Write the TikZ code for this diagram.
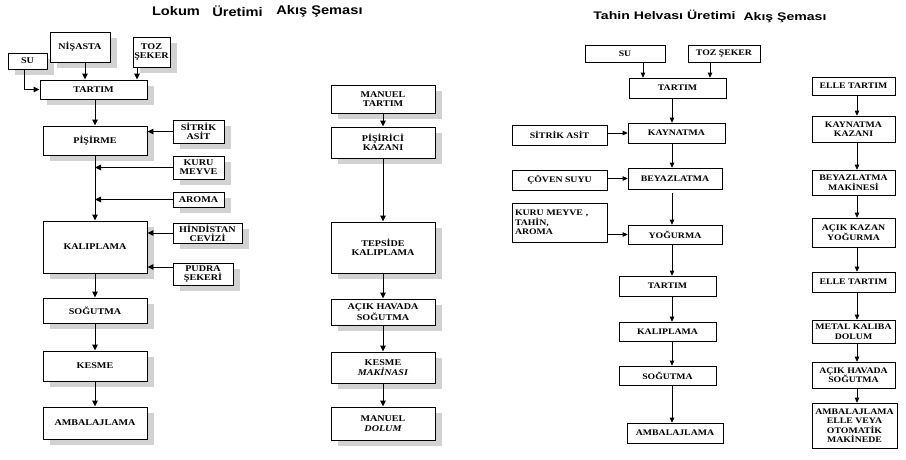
\documentclass[tikz,border=0pt]{standalone}
\usepackage{fontspec}
\newfontfamily\bxf[FakeStretch=1.15]{Liberation Serif}
\newfontfamily\ttlL[FakeStretch=1.17]{Liberation Sans}
\newfontfamily\ttlR[FakeStretch=1.28]{Liberation Sans}
\usetikzlibrary{arrows.meta,shadows}
\begin{document}
\begin{tikzpicture}[x=1pt,y=-1pt,
  lbox/.style={draw, line width=0.95pt, fill=white, inner sep=1pt, align=center,
    font=\bxf\bfseries\fontsize{8.8}{9.3}\selectfont,
    drop shadow={shadow xshift=7pt, shadow yshift=-6pt, fill=gray!35, opacity=1}},
  rbox/.style={draw, line width=0.6pt, fill=white, inner sep=1pt, align=center,
    font=\bxf\bfseries\fontsize{8.5}{9.5}\selectfont},
  larr/.style={line width=1pt, -{Triangle[length=6pt,width=5.5pt]}},
  rarr/.style={line width=0.7pt, -{Triangle[length=5pt,width=4.5pt]}},
  ltitle/.style={font=\ttlL\bfseries\fontsize{12.5}{14}\selectfont, inner sep=0pt},
  rtitle/.style={font=\ttlR\bfseries\fontsize{11}{13}\selectfont, inner sep=0pt}]
\useasboundingbox (0,0) rectangle (906,459);
\fill[white] (0,0) rectangle (906,459);

% ---------- titles ----------
\node[ltitle] (t1) at (176,11) {Lokum};
\node[ltitle] (t2) at (237.5,11) {Üretimi};
\node[ltitle] (t3) at (319.5,11) {Akış Şeması};
\node[rtitle] (t4) at (664.5,15) {Tahin Helvası Üretimi};
\node[rtitle] (t5) at (785,18) {Akış Şeması};

% ---------- Lokum: process ----------
\node[lbox, minimum width=39pt, minimum height=16pt] (su) at (27.5,61) {SU};
\node[lbox, minimum width=60pt, minimum height=30pt] (nis) at (80,47) {NİŞASTA};
\node[lbox, minimum width=37pt, minimum height=30pt] (toz) at (151.5,52) {TOZ\\ŞEKER};
\node[lbox, minimum width=107pt, minimum height=19pt] (tar) at (93.5,89.5) {TARTIM};
\node[lbox, minimum width=104pt, minimum height=29pt] (pis) at (95,140.5) {PİŞİRME};
\node[lbox, minimum width=51pt, minimum height=23pt] (sit) at (198.5,131.5) {SİTRİK\\ASİT};
\node[lbox, minimum width=51pt, minimum height=23pt] (kur) at (198.5,167.5) {KURU\\MEYVE};
\node[lbox, minimum width=51pt, minimum height=15pt] (aro) at (198.5,199.5) {AROMA};
\node[lbox, minimum width=104pt, minimum height=52pt] (kal) at (95,247) {KALIPLAMA};
\node[lbox, minimum width=69pt, minimum height=20pt] (hin) at (207.5,233) {HİNDİSTAN\\CEVİZİ};
\node[lbox, minimum width=60pt, minimum height=22pt] (pud) at (203,274) {PUDRA\\ŞEKERİ};
\node[lbox, minimum width=104pt, minimum height=25pt] (sog) at (95,310.5) {SOĞUTMA};
\node[lbox, minimum width=104pt, minimum height=30pt] (kes) at (95,366) {KESME};
\node[lbox, minimum width=104pt, minimum height=32pt] (amb) at (95,423) {AMBALAJLAMA};

\draw[larr] ([xshift=5pt]nis.south) -- ([xshift=5pt]nis.south |- tar.north);
\draw[larr] ([xshift=-14.5pt]toz.south) -- ([xshift=-14.5pt]toz.south |- tar.north);
\draw[larr] ([xshift=-3.5pt]su.south) |- (tar.west);
\draw[larr] (pis.north |- tar.south) -- (pis.north);
\draw[larr] (sit.west) -- (sit.west -| pis.east);
\draw[larr] (kur.west) -- (kur.west -| pis.south);
\draw[larr] (aro.west) -- (aro.west -| pis.south);
\draw[larr] (pis.south) -- (kal.north);
\draw[larr] (hin.west) -- (hin.west -| kal.east);
\draw[larr] ([yshift=7pt]pud.west) -- ([yshift=7pt]pud.west -| kal.east);
\draw[larr] (kal.south) -- (sog.north);
\draw[larr] (sog.south) -- (kes.north);
\draw[larr] (kes.south) -- (amb.north);

% ---------- Lokum: equipment ----------
\node[lbox, minimum width=104pt, minimum height=28pt] (mt) at (383,99) {MANUEL\\TARTIM};
\node[lbox, minimum width=104pt, minimum height=31pt] (pk) at (383,142.5) {PİŞİRİCİ\\KAZANI};
\node[lbox, minimum width=104pt, minimum height=51pt] (tk) at (383,247.5) {TEPSİDE\\KALIPLAMA};
\node[lbox, minimum width=104pt, minimum height=26pt] (ah) at (383,312) {AÇIK HAVADA\\SOĞUTMA};
\node[lbox, minimum width=104pt, minimum height=31pt] (km) at (383,367.5) {KESME\\\itshape MAKİNASI};
\node[lbox, minimum width=104pt, minimum height=33pt] (md) at (383,423.5) {MANUEL\\\itshape DOLUM};
\draw[larr] (mt) -- (pk);
\draw[larr] (pk) -- (tk);
\draw[larr] (tk) -- (ah);
\draw[larr] (ah) -- (km);
\draw[larr] (km) -- (md);

% ---------- Tahin helvası: process ----------
\coordinate (cR) at (672,0);
\node[rbox, minimum width=80pt, minimum height=17pt] (rsu) at (625,53.5) {SU};
\node[rbox, minimum width=72pt, minimum height=17pt] (rtoz) at (724,53.5) {TOZ ŞEKER};
\node[rbox, minimum width=97pt, minimum height=20pt] (rtar) at (677.5,88) {TARTIM};
\node[rbox, minimum width=95pt, minimum height=20pt] (rsit) at (559.5,135) {SİTRİK ASİT};
\node[rbox, minimum width=97pt, minimum height=20pt] (rkay) at (676.5,133) {KAYNATMA};
\node[rbox, minimum width=95pt, minimum height=20pt] (rcov) at (559.5,180) {ÇÖVEN SUYU};
\node[rbox, minimum width=94pt, minimum height=21pt] (rbey) at (675,178.5) {BEYAZLATMA};
\node[rbox, minimum width=95pt, minimum height=39pt, align=left, text width=89pt] (rkur) at (559.5,222.5) {KURU MEYVE ,\\TAHİN,\\AROMA};
\node[rbox, minimum width=94pt, minimum height=19pt] (ryog) at (675,234.5) {YOĞURMA};
\node[rbox, minimum width=97pt, minimum height=20pt] (rtar2) at (667.5,286) {TARTIM};
\node[rbox, minimum width=97pt, minimum height=19pt] (rkal) at (667.5,331.5) {KALIPLAMA};
\node[rbox, minimum width=97pt, minimum height=19pt] (rsog) at (667.5,375.5) {SOĞUTMA};
\node[rbox, minimum width=96pt, minimum height=20pt] (ramb) at (675,433) {AMBALAJLAMA};

\draw[rarr] ([xshift=18pt]rsu.south) -- ([xshift=18pt]rsu.south |- rtar.north);
\draw[rarr] ([xshift=-14pt]rtoz.south) -- ([xshift=-14pt]rtoz.south |- rtar.north);
\draw[rarr] (rtar.south -| cR) -- (rkay.north -| cR);
\draw[rarr] (rkay.west -| rsit.east) -- (rkay.west);
\draw[rarr] (rkay.south -| cR) -- (rbey.north -| cR);
\draw[rarr] (rbey.west -| rcov.east) -- (rbey.west);
\draw[rarr] ([yshift=-4pt]rbey.south -| cR) -- (ryog.north -| cR);
\draw[rarr] (ryog.west -| rkur.east) -- (ryog.west);
\draw[rarr] (ryog.south -| cR) -- (rtar2.north -| cR);
\draw[rarr] (rtar2.south -| cR) -- (rkal.north -| cR);
\draw[rarr] (rkal.south -| cR) -- (rsog.north -| cR);
\draw[rarr] (rsog.south -| cR) -- (ramb.north -| cR);

% ---------- Tahin helvası: equipment ----------
\coordinate (cE) at (857,0);
\node[rbox, minimum width=83pt, minimum height=18pt] (e1) at (853.5,86) {ELLE TARTIM};
\node[rbox, minimum width=83pt, minimum height=26pt] (e2) at (853.5,129) {KAYNATMA\\KAZANI};
\node[rbox, minimum width=83pt, minimum height=25pt] (e3) at (853.5,182.5) {BEYAZLATMA\\MAKİNESİ};
\node[rbox, minimum width=83pt, minimum height=29pt] (e4) at (853.5,232.5) {AÇIK KAZAN\\YOĞURMA};
\node[rbox, minimum width=83pt, minimum height=20pt] (e5) at (853.5,282) {ELLE TARTIM};
\node[rbox, minimum width=83pt, minimum height=23pt] (e6) at (853.5,331.5) {METAL KALIBA\\DOLUM};
\node[rbox, minimum width=83pt, minimum height=26pt] (e7) at (853.5,375) {AÇIK HAVADA\\SOĞUTMA};
\node[rbox, minimum width=85pt, minimum height=45pt] (e8) at (854.5,425.5) {AMBALAJLAMA\\ELLE VEYA\\OTOMATİK\\MAKİNEDE};
\draw[rarr] (e1.south -| cE) -- (e2.north -| cE);
\draw[rarr] (e2.south -| cE) -- (e3.north -| cE);
\draw[rarr] (e3.south -| cE) -- (e4.north -| cE);
\draw[rarr] (e4.south -| cE) -- (e5.north -| cE);
\draw[rarr] (e5.south -| cE) -- (e6.north -| cE);
\draw[rarr] (e6.south -| cE) -- (e7.north -| cE);
\draw[rarr] (e7.south -| cE) -- (e8.north -| cE);
\end{tikzpicture}
\end{document}
